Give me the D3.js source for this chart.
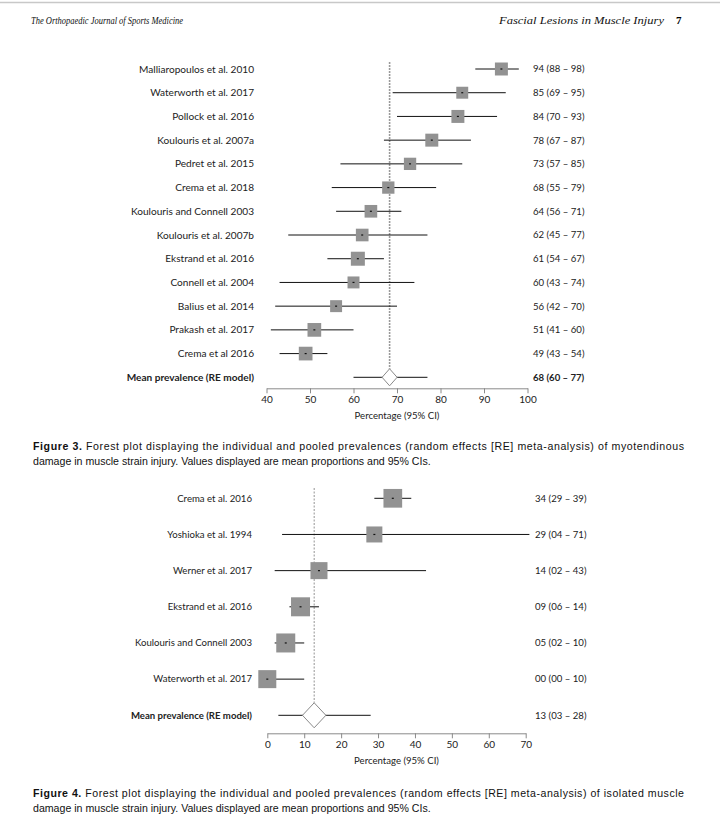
<!DOCTYPE html>
<html lang="en">
<head>
<meta charset="UTF-8">
<title>Forest plots</title>
<script src="https://cdn.jsdelivr.net/npm/d3@7"></script>
<style>
  body { margin: 0; background: #fff; }
  .lbl { font-family: Lato, "Open Sans", sans-serif; font-size: 9.6px; fill: #222; }
  .tick text { font-family: Lato, "Open Sans", sans-serif; font-size: 10px; fill: #222; }
  .cap { font-family: "Liberation Sans", Arial, sans-serif; font-size: 10.6px; fill: #111; }
  .hdr { font-family: "Liberation Serif", "DejaVu Serif", serif; font-style: italic; font-size: 11px; fill: #111; }
</style>
</head>
<body>
<svg id="page" width="720" height="835"></svg>
<script>
// ---- Figure 3 data (myotendinous damage) ----
const studies3 = ["Malliaropoulos et al. 2010", "Waterworth et al. 2017", "Pollock et al. 2016",
  "Koulouris et al. 2007a", "Pedret et al. 2015", "Crema et al. 2018", "Koulouris and Connell 2003",
  "Koulouris et al. 2007b", "Ekstrand et al. 2016", "Connell et al. 2004", "Balius et al. 2014",
  "Prakash et al. 2017", "Crema et al 2016"]
const est3 = [94, 85, 84, 78, 73, 68, 64, 62, 61, 60, 56, 51, 49]
const lo3 = [88, 69, 70, 67, 57, 55, 56, 45, 54, 43, 42, 41, 43]
const hi3 = [98, 95, 93, 87, 85, 79, 71, 77, 67, 74, 70, 60, 54]
const weight3 = [7.9, 6.7, 7.9, 7.9, 7.1, 7.1, 7.5, 7.5, 9.2, 6.7, 6.7, 8.8, 8.8]
const pooled3 = { est: 68.3, lo: 60, hi: 77 }
const ticks3 = [40, 50, 60, 70, 80, 90, 100]

// ---- Figure 4 data (isolated muscle damage) ----
const studies4 = ["Crema et al. 2016", "Yoshioka et al. 1994", "Werner et al. 2017",
  "Ekstrand et al. 2016", "Koulouris and Connell 2003", "Waterworth et al. 2017"]
const est4 = [34, 29, 14, 9, 5, 0]
const lo4 = [29, 4, 2, 6, 2, 0]
const hi4 = [39, 71, 43, 14, 10, 10]
const weight4 = [18.0, 13.2, 14.9, 18.6, 18.6, 16.7]
const pooled4 = { est: 12.7, lo: 3, hi: 28 }
const ticks4 = [0, 10, 20, 30, 40, 50, 60, 70]

const svg = d3.select('#page')
const f2 = d3.format('02d')
const fmt = (e, l, h) => `${f2(Math.round(e))} (${f2(l)} \u2013 ${f2(h)})`

// page header
svg.append('line').attr('x1', 0).attr('x2', 720).attr('y1', 2.5).attr('y2', 2.5)
  .attr('stroke', '#c8c8c8').attr('stroke-width', 1.5)
svg.append('text').attr('class', 'hdr').attr('x', 31).attr('y', 24)
  .style('font-size', '10px')
  .attr('textLength', 152).attr('lengthAdjust', 'spacingAndGlyphs')
  .text('The Orthopaedic Journal of Sports Medicine')
svg.append('text').attr('class', 'hdr').attr('x', 499).attr('y', 24)
  .attr('textLength', 165).attr('lengthAdjust', 'spacingAndGlyphs')
  .text('Fascial Lesions in Muscle Injury')
svg.append('text').attr('x', 676).attr('y', 24)
  .style('font-family', '"Liberation Serif", serif').style('font-weight', 'bold').style('font-size', '11px')
  .text('7')

const drawForest = (cfg) => {
  const n = cfg.studies.length
  const x = d3.scaleLinear().domain(cfg.domain).range(cfg.xRange)
  const y = d3.scalePoint().domain(d3.range(n + 1)).range(cfg.yRange)
  const side = d3.scaleSqrt().domain([0, d3.max(cfg.weight)]).range([0, cfg.maxSide])
  const rows = cfg.studies.map((s, i) => ({ s, i, e: cfg.est[i], l: cfg.lo[i], h: cfg.hi[i], w: cfg.weight[i] }))
  const g = svg.append('g')

  // reference line at pooled estimate
  g.append('line')
    .attr('x1', x(cfg.pooled.est)).attr('x2', x(cfg.pooled.est))
    .attr('y1', cfg.refTop).attr('y2', y(n) - cfg.diamond[1])
    .attr('stroke', cfg.refColor).attr('stroke-width', cfg.refWidth)
    .attr('stroke-dasharray', cfg.refDash)

  // CI lines
  g.selectAll('line.ci').data(rows).enter().append('line').attr('class', 'ci')
    .attr('x1', d => x(d.l)).attr('x2', d => x(d.h))
    .attr('y1', d => y(d.i)).attr('y2', d => y(d.i))
    .attr('stroke', '#111').attr('stroke-width', 1)

  // squares
  g.selectAll('rect.sq').data(rows).enter().append('rect').attr('class', 'sq')
    .attr('x', d => x(d.e) - side(d.w) / 2).attr('y', d => y(d.i) - side(d.w) / 2)
    .attr('width', d => side(d.w)).attr('height', d => side(d.w))
    .attr('fill', '#929292')

  // centre marks
  g.selectAll('rect.pt').data(rows).enter().append('rect').attr('class', 'pt')
    .attr('x', d => x(d.e) - 1).attr('y', d => y(d.i) - 0.6)
    .attr('width', 2).attr('height', 1.2).attr('fill', '#111')

  // pooled
  const py = y(n)
  g.append('line').attr('x1', x(cfg.pooled.lo)).attr('x2', x(cfg.pooled.hi))
    .attr('y1', py).attr('y2', py).attr('stroke', '#111').attr('stroke-width', 1)
  const [dw, dh] = cfg.diamond
  const px = x(cfg.pooled.est)
  g.append('path')
    .attr('d', `M${px - dw},${py} L${px},${py - dh} L${px + dw},${py} L${px},${py + dh} Z`)
    .attr('fill', '#fff').attr('stroke', '#8a8a8a').attr('stroke-width', 1)

  // study labels
  g.selectAll('text.name').data(rows).enter().append('text').attr('class', 'lbl name')
    .attr('x', cfg.labelX).attr('y', d => y(d.i)).attr('dy', '0.35em')
    .style('font-size', cfg.nameSize + 'px')
    .attr('text-anchor', 'end').text(d => d.s)
  g.append('text').attr('class', 'lbl').attr('x', cfg.labelX).attr('y', py).attr('dy', '0.35em')
    .style('font-size', cfg.nameSize + 'px')
    .attr('text-anchor', 'end').style('font-weight', 'bold').text('Mean prevalence (RE model)')

  // value labels
  g.selectAll('text.val').data(rows).enter().append('text').attr('class', 'lbl val')
    .attr('x', cfg.valueX).attr('y', d => y(d.i)).attr('dy', '0.35em')
    .text(d => fmt(d.e, d.l, d.h))
  g.append('text').attr('class', 'lbl').attr('x', cfg.valueX).attr('y', py).attr('dy', '0.35em')
    .style('font-weight', cfg.pooledBold ? 'bold' : 'normal')
    .text(fmt(cfg.pooled.est, cfg.pooled.lo, cfg.pooled.hi))

  // axis
  const ax = g.append('g').attr('transform', `translate(0,${cfg.axisY})`)
    .call(d3.axisBottom(x).tickValues(cfg.ticks).tickSize(5).tickPadding(3).tickSizeOuter(0))
  ax.select('.domain').attr('stroke', '#8a8a8a')
  ax.selectAll('.tick line').attr('stroke', '#8a8a8a')
  g.append('text').attr('class', 'lbl').attr('x', (cfg.xRange[0] + cfg.xRange[1]) / 2)
    .attr('y', cfg.axisY + 31).attr('text-anchor', 'middle').text('Percentage (95% CI)')
}

drawForest({
  studies: studies3, est: est3, lo: lo3, hi: hi3, weight: weight3, pooled: pooled3, ticks: ticks3,
  domain: [40, 100], xRange: [266.5, 527.5], yRange: [69, 377.3], maxSide: 14,
  diamond: [7.5, 8.5], refTop: 62, refColor: '#9a9a9a', refWidth: 1.6, refDash: '2,1',
  labelX: 254, valueX: 533, pooledBold: true, axisY: 388.3, nameSize: 10.1
})

drawForest({
  studies: studies4, est: est4, lo: lo4, hi: hi4, weight: weight4, pooled: pooled4, ticks: ticks4,
  domain: [0, 70], xRange: [267.3, 525.7], yRange: [498.3, 715.3], maxSide: 19,
  diamond: [11.7, 12.5], refTop: 488, refColor: '#777', refWidth: 0.8, refDash: '2,1.5',
  labelX: 252, valueX: 535, pooledBold: false, axisY: 733.3, nameSize: 9.6
})

// captions
const caption = (y0, num, line1, line2) => {
  const t = svg.append('text').attr('class', 'cap').attr('x', 33).attr('y', y0)
    .attr('textLength', 651).attr('lengthAdjust', 'spacing')
  t.append('tspan').style('font-weight', 'bold').text(`Figure ${num}.`)
  t.append('tspan').text(' ' + line1)
  svg.append('text').attr('class', 'cap').attr('x', 33).attr('y', y0 + 15).text(line2)
}
caption(450, 3,
  'Forest plot displaying the individual and pooled prevalences (random effects [RE] meta-analysis) of myotendinous',
  'damage in muscle strain injury. Values displayed are mean proportions and 95% CIs.')
caption(797, 4,
  'Forest plot displaying the individual and pooled prevalences (random effects [RE] meta-analysis) of isolated muscle',
  'damage in muscle strain injury. Values displayed are mean proportions and 95% CIs.')
</script>
</body>
</html>
